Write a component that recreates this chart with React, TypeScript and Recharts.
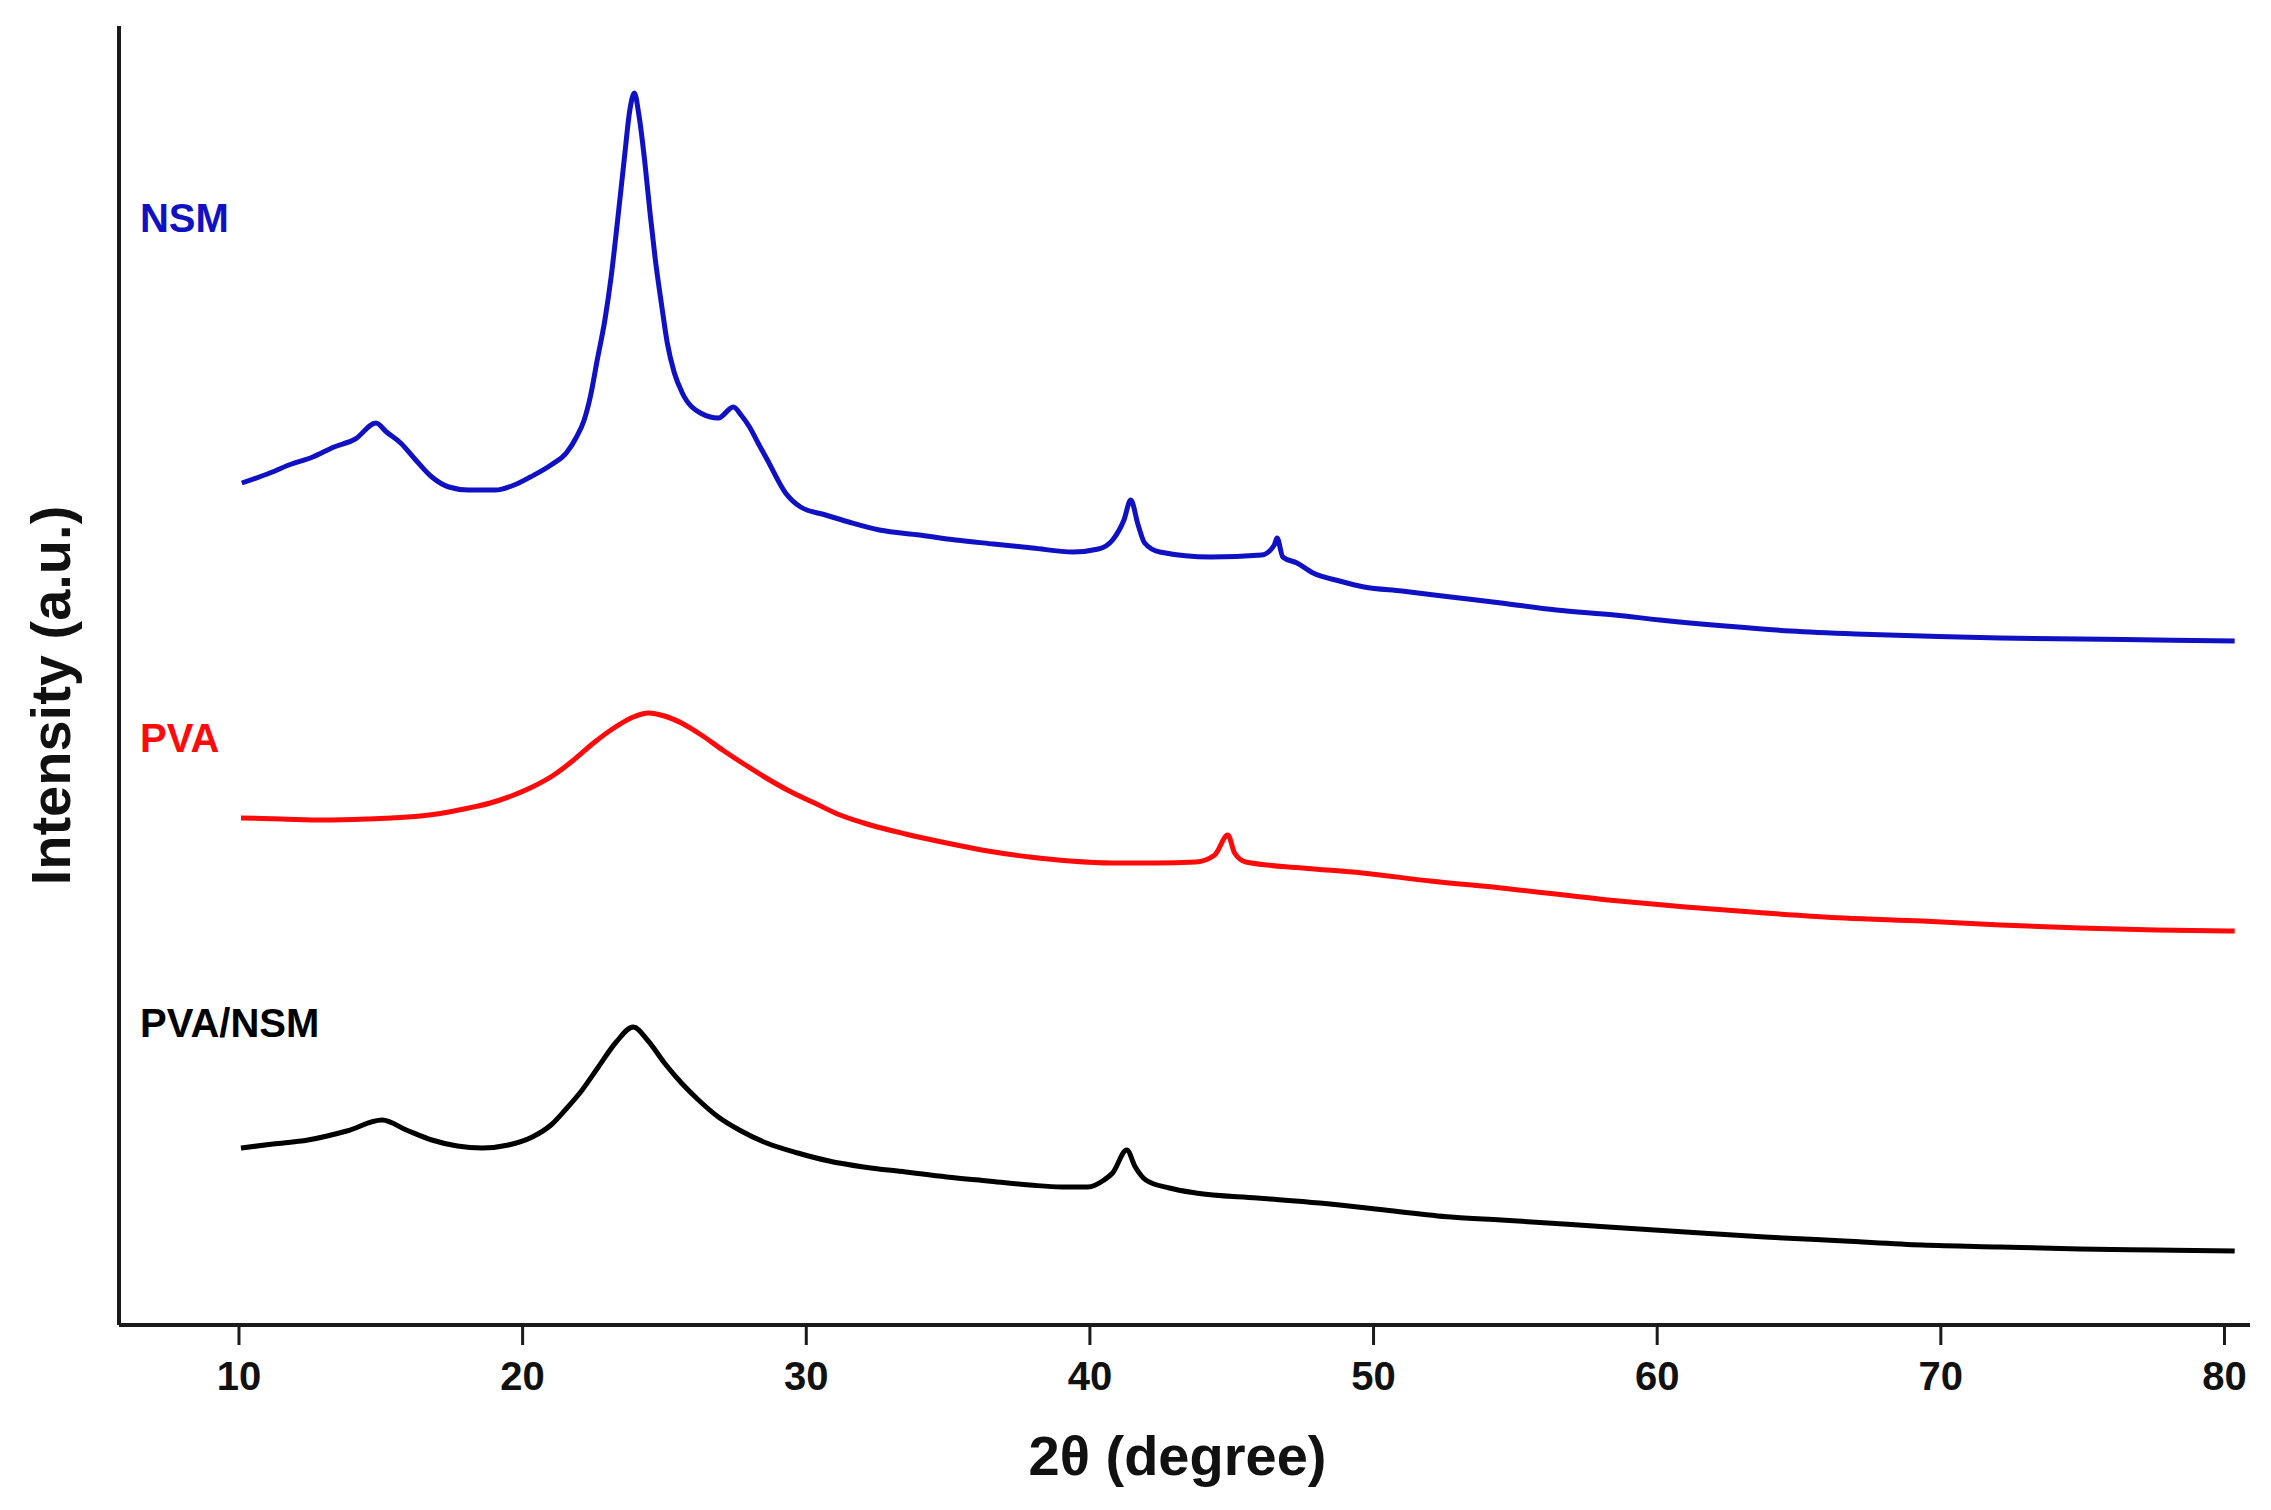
import { Line, LineChart, ReferenceDot, XAxis, YAxis, Label } from 'recharts';

// 2θ positions (degree) and intensities (a.u., curves stacked with offsets)
const nsmX = [10.1, 11.0, 11.76, 12.6, 13.35, 14.1, 14.83, 15.2, 15.7, 16.2, 16.8, 17.4, 18.08, 19.03, 19.7, 20.27, 21.0, 21.54, 21.9, 22.17, 22.4, 22.63, 22.9, 23.12, 23.35, 23.58, 23.78, 23.94, 24.1, 24.3, 24.5, 24.68, 24.9, 25.1, 25.35, 25.63, 26.27, 26.9, 27.43, 27.7, 28.0, 28.3, 28.63, 29.27, 29.8, 30.68, 31.5, 32.58, 34.0, 35.27, 36.6, 37.98, 39.4, 40.3, 40.8, 41.2, 41.44, 41.7, 41.93, 42.46, 44.26, 46.06, 46.5, 46.6, 46.8, 47.3, 47.87, 48.8, 49.67, 51.0, 52.73, 54.5, 56.44, 58.5, 60.1, 62.4, 64.7, 67.0, 69.35, 72.1, 74.9, 77.6, 80.36];
const nsmY = [842, 851, 860, 868, 878, 886, 902, 893, 882, 866, 848, 838, 835, 835, 840, 848, 860, 872, 888, 905, 930, 965, 1005, 1048, 1105, 1165, 1215, 1232, 1210, 1165, 1110, 1065, 1020, 982, 952, 932, 912, 907, 918, 910, 898, 882, 865, 832, 818, 810, 803, 795, 790, 785, 781, 777, 773, 776, 785, 805, 825, 800, 782, 773, 768, 770, 780, 787, 768, 762, 752, 744, 738, 734, 728, 722, 715, 710, 705, 699, 694, 691, 689, 687, 686, 685, 684];

const pvaX = [10.07, 11.5, 13.0, 14.5, 15.93, 16.7, 17.4, 18.1, 18.86, 19.6, 20.34, 21.1, 21.8, 22.5, 23.27, 23.9, 24.43, 25.0, 25.6, 26.3, 27.05, 27.8, 28.53, 29.4, 30.29, 31.1, 32.02, 33.5, 34.95, 36.4, 37.88, 39.3, 40.8, 42.3, 43.73, 44.4, 44.86, 45.1, 45.5, 47.5, 49.6, 52.0, 54.5, 58.27, 61.0, 63.8, 66.6, 69.35, 72.1, 74.9, 77.6, 80.36];
const pvaY = [507, 506, 505, 506, 508, 510, 513, 517, 522, 529, 538, 550, 565, 582, 598, 608, 612, 609, 602, 590, 575, 561, 548, 534, 522, 511, 502, 491, 482, 474, 468, 464, 462, 462, 463, 470, 490, 472, 463, 457, 452, 444, 437, 425, 418, 412, 407, 404, 400, 397, 395, 394];

const blendX = [10.07, 11.2, 12.43, 13.8, 15.05, 15.9, 16.8, 17.7, 18.57, 19.5, 20.34, 21.0, 21.5, 22.1, 22.67, 23.3, 23.9, 24.4, 25.0, 25.6, 26.2, 26.9, 27.64, 28.6, 29.7, 30.8, 32.02, 33.5, 34.95, 36.4, 37.88, 39.0, 39.92, 40.5, 40.8, 41.3, 41.6, 41.97, 42.8, 43.73, 45.9, 48.1, 50.4, 52.73, 54.5, 58.27, 61.0, 63.8, 66.6, 69.35, 72.1, 74.9, 77.6, 80.36];
const blendY = [177, 181, 185, 194, 205, 195, 185, 179, 177, 180, 188, 200, 215, 235, 258, 283, 298, 285, 262, 242, 225, 208, 195, 182, 172, 164, 158, 153, 148, 144, 140, 138, 138, 145, 152, 175, 158, 145, 137, 132, 127, 122, 115, 108, 105, 98, 93, 88, 84, 80, 78, 76, 75, 74];

const xTicks = [10, 20, 30, 40, 50, 60, 70, 80];
const seriesNames = ['NSM', 'PVA', 'PVA/NSM'];
const seriesColors = ['#1010c4', '#ff0a0a', '#000000'];
// where each series name sits, in data units (2θ, intensity)
const nameAnchorX = 6.51;
const nameAnchorY = [1093, 573, 288];

const toPoints = (xs: number[], ys: number[]) => xs.map((x, i) => ({ x, v: ys[i] }));
const series = [toPoints(nsmX, nsmY), toPoints(pvaX, pvaY), toPoints(blendX, blendY)];

const FONT = '"Liberation Sans", Arial, sans-serif';
const AXIS = '#1a1a1a';

export default function App() {
  return (
    <div style={{ width: 2255, height: 1494, background: '#fff' }}>
      <LineChart width={2255} height={1494} margin={{ top: 18, right: 13, bottom: 57, left: 0 }}>
        <XAxis
          type="number"
          dataKey="x"
          domain={[5.77, 80.9]}
          ticks={xTicks}
          allowDataOverflow
          height={120}
          tickSize={20}
          tickMargin={17}
          axisLine={{ stroke: AXIS, strokeWidth: 4 }}
          tickLine={{ stroke: AXIS, strokeWidth: 3 }}
          tick={{ fontSize: 40, fontWeight: 700, fill: '#111', fontFamily: FONT }}
        >
          <Label
            content={({ viewBox }: any) => (
              <text
                x={viewBox.x + viewBox.width / 2 - 7}
                y={viewBox.y + 150}
                textAnchor="middle"
                fontSize={56}
                fontWeight={700}
                fontFamily={FONT}
                fill="#111"
              >
                2θ (degree)
              </text>
            )}
          />
        </XAxis>
        <YAxis
          type="number"
          dataKey="v"
          domain={[0, 1299]}
          width={111}
          tick={false}
          tickLine={false}
          axisLine={{ stroke: AXIS, strokeWidth: 4 }}
        >
          <Label
            content={({ viewBox }: any) => {
              const cx = viewBox.x + 42;
              const cy = viewBox.y + viewBox.height / 2 + 20;
              return (
                <text
                  x={cx}
                  y={cy}
                  transform={`rotate(-90 ${cx} ${cy})`}
                  textAnchor="middle"
                  dominantBaseline="central"
                  fontSize={56}
                  fontWeight={700}
                  fontFamily={FONT}
                  fill="#111"
                >
                  Intensity (a.u.)
                </text>
              );
            }}
          />
        </YAxis>
        {series.map((data, i) => (
          <Line
            key={seriesNames[i]}
            data={data}
            dataKey="v"
            type="monotone"
            stroke={seriesColors[i]}
            strokeWidth={5}
            strokeLinejoin="round"
            dot={false}
            activeDot={false}
            isAnimationActive={false}
          />
        ))}
        {seriesNames.map((name, i) => (
          <ReferenceDot
            key={name}
            x={nameAnchorX}
            y={nameAnchorY[i]}
            r={0}
            stroke="none"
            fill="none"
            label={{
              content: ({ viewBox }: any) => (
                <text
                  x={viewBox.x}
                  y={viewBox.y}
                  fontSize={40}
                  fontWeight={700}
                  fontFamily={FONT}
                  fill={seriesColors[i]}
                >
                  {name}
                </text>
              ),
            }}
          />
        ))}
      </LineChart>
    </div>
  );
}
